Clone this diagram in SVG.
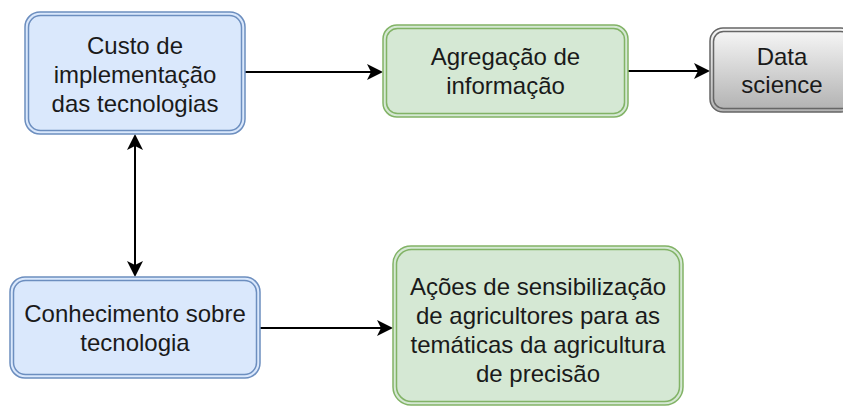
<svg xmlns="http://www.w3.org/2000/svg" width="843" height="408" viewBox="0 0 843 408">
  <defs>
    <style>
      .lbl { font-family: "Liberation Sans", Arial, Helvetica, sans-serif; font-size: 24px; fill: #1a1a1a; text-anchor: middle; }
      .blue { fill: #dae8fc; stroke: #6c8ebf; stroke-width: 1.5; }
      .green { fill: #d5e8d4; stroke: #82b366; stroke-width: 1.5; }
      .gray { fill: url(#grayGrad); stroke: #666666; stroke-width: 1.5; }
      .edge { fill: none; stroke: #000000; stroke-width: 2; }
    </style>
    <linearGradient id="grayGrad" x1="0" y1="0" x2="0" y2="1">
      <stop offset="0" stop-color="#f5f5f5"/>
      <stop offset="1" stop-color="#b3b3b3"/>
    </linearGradient>
    <marker id="arrow" markerUnits="userSpaceOnUse" markerWidth="16" markerHeight="16" refX="4" refY="8" orient="auto-start-reverse" viewBox="0 0 16 16">
      <path d="M0,0 L16,8 L0,16 L4,8 Z" fill="#000000"/>
    </marker>
  </defs>

  <g id="edges">
    <path class="edge" d="M245,72 L371,72" marker-end="url(#arrow)"/>
    <path class="edge" d="M628,71 L698,71" marker-end="url(#arrow)"/>
    <path class="edge" d="M135,146 L135,265" marker-start="url(#arrow)" marker-end="url(#arrow)"/>
    <path class="edge" d="M260,328 L381,328" marker-end="url(#arrow)"/>
  </g>

  <g id="custo">
    <rect class="blue" x="25" y="12" width="220" height="122" rx="15"/>
    <rect class="blue" x="28.5" y="15.5" width="213" height="115" rx="12"/>
    <text class="lbl" x="135" y="54">Custo de</text>
    <text class="lbl" x="135" y="83">implementação</text>
    <text class="lbl" x="135" y="112">das tecnologias</text>
  </g>

  <g id="agregacao">
    <rect class="green" x="383" y="25" width="245" height="92" rx="14"/>
    <rect class="green" x="386.5" y="28.5" width="238" height="85" rx="11"/>
    <text class="lbl" x="505.5" y="65">Agregação de</text>
    <text class="lbl" x="505.5" y="94">informação</text>
  </g>

  <g id="datascience">
    <rect class="gray" x="710" y="28" width="144" height="84" rx="13"/>
    <rect class="gray" x="713.5" y="31.5" width="137" height="77" rx="10"/>
    <text class="lbl" x="782" y="65">Data</text>
    <text class="lbl" x="782" y="93">science</text>
  </g>

  <g id="conhecimento">
    <rect class="blue" x="10" y="277" width="250" height="101" rx="15"/>
    <rect class="blue" x="13.5" y="280.5" width="243" height="94" rx="12"/>
    <text class="lbl" x="135" y="322">Conhecimento sobre</text>
    <text class="lbl" x="135" y="351">tecnologia</text>
  </g>

  <g id="acoes">
    <rect class="green" x="393" y="246" width="290" height="159" rx="18"/>
    <rect class="green" x="396.5" y="249.5" width="283" height="152" rx="15"/>
    <text class="lbl" x="538" y="295">Ações de sensibilização</text>
    <text class="lbl" x="538" y="324">de agricultores para as</text>
    <text class="lbl" x="538" y="353">temáticas da agricultura</text>
    <text class="lbl" x="538" y="382">de precisão</text>
  </g>
</svg>
